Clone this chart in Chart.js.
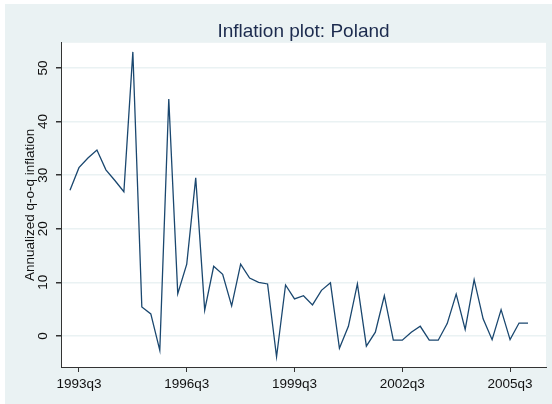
<!DOCTYPE html>
<html>
<head>
<meta charset="utf-8">
<script src="https://cdn.jsdelivr.net/npm/chart.js@4/dist/chart.umd.min.js"></script>
<style>
html, body { margin: 0; padding: 0; background: #fff; }
</style>
</head>
<body>
<canvas id="inflChart" width="552" height="404"></canvas>
<script>
// quarters counted from 1993q1 = 0
const baseYear = 1993;
const firstQuarter = 1; // 1993q2
const inflation = [
    27.2, 31.4, 33.2, 34.7, 31.0, 29.0, 26.9, 53.0, 5.4, 4.1,
    -2.7, 44.2, 7.9, 13.4, 29.5, 4.8, 13.0, 11.5, 5.6, 13.4,
    10.8, 10.0, 9.7, -3.9, 9.5, 6.9, 7.5, 5.8, 8.5, 9.9,
    -2.3, 1.8, 9.7, -1.9, 0.7, 7.5, -0.8, -0.8, 0.7, 1.8,
    -0.8, -0.8, 2.3, 7.8, 1.2, 10.5, 3.2, -0.7, 4.9, -0.7,
    2.4, 2.4
];
const xTickLabels = ['1993q3', '1996q3', '1999q3', '2002q3', '2005q3'];
const yTickValues = [0, 10, 20, 30, 40, 50];

function quarterIndex(lbl) {
    const y = parseInt(lbl.slice(0, 4));
    const q = parseInt(lbl.slice(5));
    return (y - baseYear) * 4 + (q - 1);
}
function quarterLabel(v) {
    return (baseYear + Math.floor(v / 4)) + 'q' + (v % 4 + 1);
}

const points = inflation.map((v, i) => ({ x: firstQuarter + i, y: v }));

const stataBg = '#EAF2F3';
const font = 'Liberation Sans, Arial, sans-serif';

// light blue graph region, white plot region
const bgPlugin = {
    id: 'bg',
    beforeDraw(chart) {
        const ctx = chart.ctx, a = chart.chartArea;
        ctx.save();
        ctx.fillStyle = '#fff';
        ctx.fillRect(0, 0, chart.width, chart.height);
        ctx.fillStyle = stataBg;
        ctx.fillRect(5, 4, chart.width - 5, chart.height - 4);
        ctx.fillStyle = '#fff';
        ctx.fillRect(a.left, a.top, a.right - a.left, a.bottom - a.top);
        ctx.restore();
    }
};

new Chart(document.getElementById('inflChart').getContext('2d'), {
    type: 'line',
    data: {
        datasets: [{
            data: points,
            borderColor: '#1A476F',
            borderWidth: 1.3,
            pointRadius: 0,
            tension: 0,
            fill: false
        }]
    },
    options: {
        responsive: false,
        animation: false,
        layout: { padding: { left: 0, right: 6, top: 0, bottom: 0 } },
        plugins: {
            legend: { display: false },
            tooltip: { enabled: false },
            title: {
                display: true,
                text: 'Inflation plot: Poland',
                fullSize: false,
                color: '#1c2b4e',
                font: { family: font, size: 19, weight: 'normal' },
                padding: { top: 20, bottom: 0 }
            }
        },
        scales: {
            x: {
                type: 'linear',
                min: 0,
                max: 54,
                afterBuildTicks: s => { s.ticks = xTickLabels.map(l => ({ value: quarterIndex(l) })); },
                afterFit: s => { s.height = 37; },
                grid: { display: true, drawOnChartArea: false, drawTicks: true, tickLength: 5, tickColor: '#333' },
                border: { display: true, color: '#333', width: 1 },
                ticks: {
                    callback: v => quarterLabel(v),
                    color: '#111',
                    font: { family: font, size: 13.5 },
                    padding: 4,
                    maxRotation: 0,
                    minRotation: 0
                }
            },
            y: {
                min: -5.8,
                max: 54.7,
                afterBuildTicks: s => { s.ticks = yTickValues.map(v => ({ value: v })); },
                afterFit: s => { s.width = 61; },
                grid: { display: true, drawOnChartArea: true, color: stataBg, lineWidth: 1.5, drawTicks: true, tickLength: 5, tickColor: '#333' },
                border: { display: true, color: '#333', width: 1 },
                ticks: {
                    color: '#111',
                    font: { family: font, size: 13.5 },
                    minRotation: 90,
                    maxRotation: 90,
                    crossAlign: 'center',
                    padding: 5
                },
                title: {
                    display: true,
                    text: 'Annualized q-o-q inflation',
                    color: '#111',
                    font: { family: font, size: 13.5 },
                    padding: { top: 22, bottom: 0 }
                }
            }
        }
    },
    plugins: [bgPlugin]
});
</script>
</body>
</html>
